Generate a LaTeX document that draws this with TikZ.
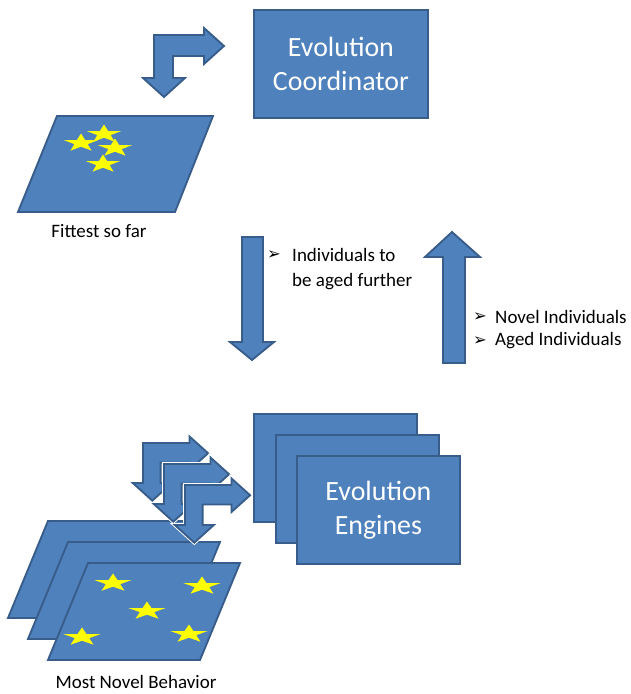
\documentclass[tikz,border=0pt]{standalone}
\usepackage{fontspec}
\setmainfont{Carlito}
\newfontfamily\dejavu{DejaVu Sans}
\definecolor{boxfill}{HTML}{4F81BD}
\definecolor{boxline}{HTML}{385D8A}
\definecolor{stary}{HTML}{FFFF00}
\newcommand\ystar[3]{%
  \begin{scope}[shift={(#1,#2)},xscale=#3]
    \fill[stary] (-90:9.5) -- (-54:3.7) -- (-18:9.5) -- (18:3.7) -- (54:9.5) -- (90:3.7) -- (126:9.5) -- (162:3.7) -- (198:9.5) -- (234:3.7) -- cycle;
  \end{scope}}
\newcommand\bentarrowW[3]{%
  \begin{scope}[shift={(#1,#2)},scale=#3]
    \draw[white,line width=3.2pt,line join=miter] (0,0) -- (50,0) -- (50,-7) -- (70,11) -- (50,29) -- (50,21) -- (19,21) -- (19,43) -- (31,43) -- (10,62) -- (-11,43) -- (0,43) -- cycle;
    \path[shapefill] (0,0) -- (50,0) -- (50,-7) -- (70,11) -- (50,29) -- (50,21) -- (19,21) -- (19,43) -- (31,43) -- (10,62) -- (-11,43) -- (0,43) -- cycle;
  \end{scope}}
\begin{document}
\begin{tikzpicture}[x=0.03cm,y=-0.03cm,
  shapefill/.style={fill=boxfill,draw=boxline,line width=1.6pt,line join=miter},
  bigbox/.style={shapefill,rectangle,inner sep=0pt,text=white,align=center,
     font=\fontsize{23.8}{29}\selectfont},
  lbl/.style={inner sep=0pt,font=\fontsize{16.2}{20}\selectfont},
  bul/.style={inner sep=0pt,font=\dejavu\fontsize{14}{14}\selectfont}]
\useasboundingbox (0,0) rectangle (630,694);

% Evolution Coordinator
\node[bigbox,anchor=north west,minimum width=5.22cm,minimum height=3.24cm] (coord) at (253,9) {Evolution\\Coordinator};

% top bent arrow
\begin{scope}[shift={(154,35)}]
  \path[shapefill] (0,0) -- (50,0) -- (50,-7) -- (70,11) -- (50,29) -- (50,21) -- (19,21) -- (19,43) -- (31,43) -- (10,62) -- (-11,43) -- (0,43) -- cycle;
\end{scope}

% Fittest so far
\path[shapefill] (57,116) -- (213,116) -- (175,212) -- (18,212) -- cycle;
\ystar{104}{134}{1.9}
\ystar{81}{143}{1.9}
\ystar{115}{148}{1.9}
\ystar{103}{164}{1.9}
\node[lbl] (fit) at (99,231) {Fittest so far};

% down arrow
\path[shapefill] (242,237) -- (263,237) -- (263,342) -- (274,342) -- (252,360) -- (230,342) -- (242,342) -- cycle;
\node[bul] (b1) at (274,255) {➢};
\node[lbl,anchor=west] (t1) at (292,255) {Individuals to};
\node[lbl,anchor=west] (t2) at (292,282) {be aged further};

% up arrow
\path[shapefill] (443,363) -- (465,363) -- (465,257) -- (480,257) -- (452,232) -- (425,257) -- (443,257) -- cycle;
\node[bul] (b2) at (480,317) {➢};
\node[lbl,anchor=west] (t3) at (495,317) {Novel Individuals};
\node[bul] (b3) at (480,341) {➢};
\node[lbl,anchor=west] (t4) at (495,341) {Aged Individuals};

% Evolution engines
\node[bigbox,anchor=north west,minimum width=4.89cm,minimum height=3.24cm] (eng1) at (253,413) {};
\node[bigbox,anchor=north west,minimum width=4.89cm,minimum height=3.24cm] (eng2) at (275,434) {};
\node[bigbox,anchor=north west,minimum width=4.89cm,minimum height=3.24cm] (eng3) at (296,455) {Evolution\\Engines};

% novelty parallelograms
\path[shapefill] (48,521) -- (200,521) -- (160,618) -- (8,618) -- cycle;
\path[shapefill] (68,542) -- (220,542) -- (180,639) -- (28,639) -- cycle;

% small bent arrows
\bentarrowW{143}{443}{0.93}
\bentarrowW{164}{464}{0.93}
\bentarrowW{185}{485}{0.93}

\path[shapefill] (88,563) -- (240,563) -- (200,660) -- (48,660) -- cycle;
\ystar{113}{583}{2.05}
\ystar{202}{586}{2.05}
\ystar{147}{611}{2.05}
\ystar{82}{637}{2.05}
\ystar{189}{634}{2.05}
\node[lbl] (nov) at (136,682) {Most Novel Behavior};
\end{tikzpicture}
\end{document}
